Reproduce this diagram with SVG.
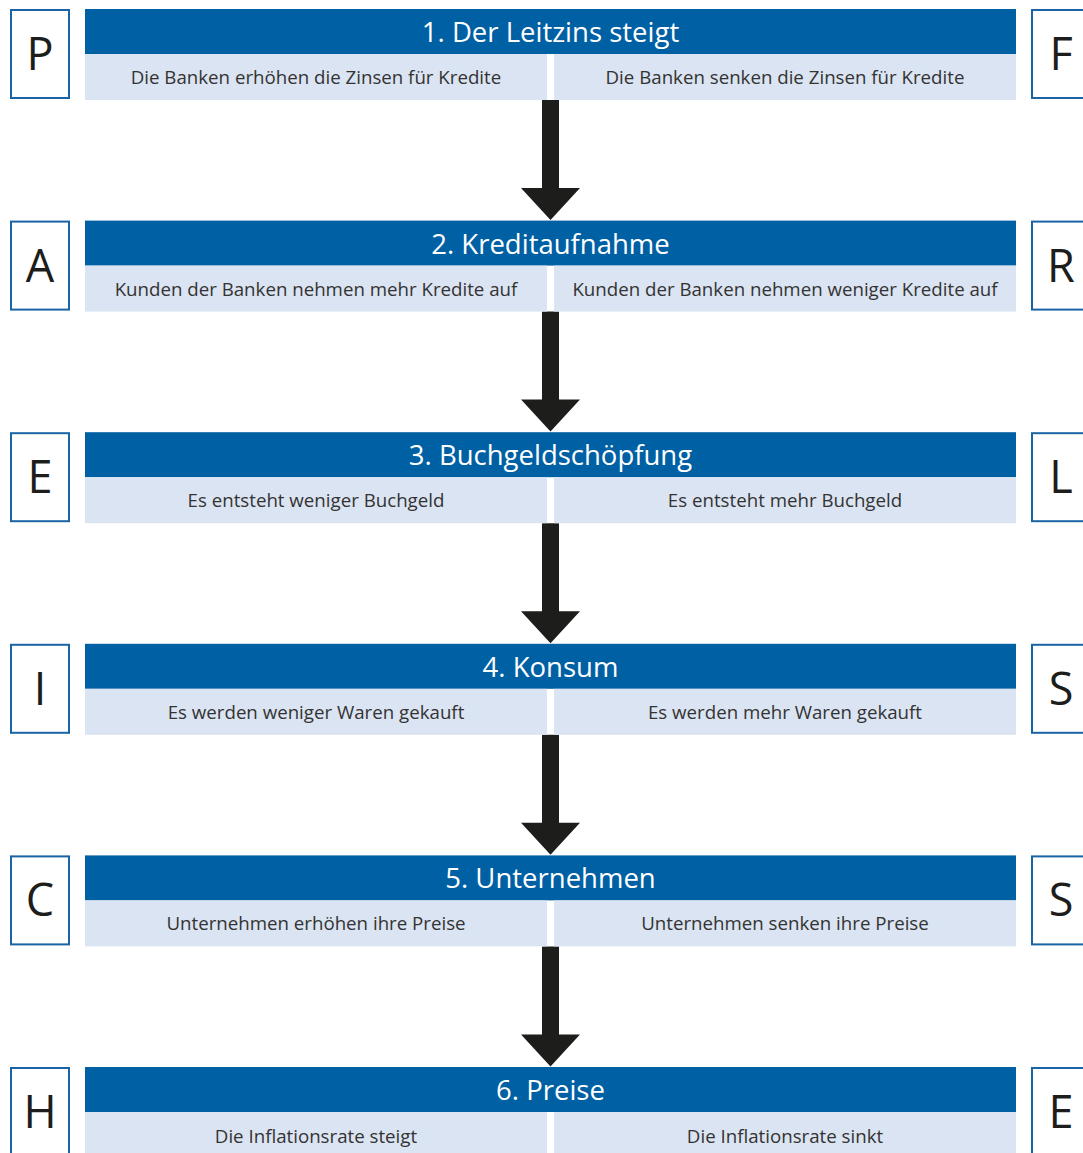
<svg xmlns="http://www.w3.org/2000/svg" width="1083" height="1153" viewBox="0 0 1083 1153">
<defs>
<style>
.hd{fill:#0060a4}
.sb{fill:#dbe4f2}
.lb{fill:#fff;stroke:#1a64a6;stroke-width:2}
.tt{font-family:"Open Sans","Noto Sans",sans-serif;font-size:27.5px;fill:#fff;text-anchor:middle}
.st{font-family:"Open Sans","Noto Sans",sans-serif;font-size:18.7px;fill:#333;text-anchor:middle}
.lt{font-family:"Open Sans","Noto Sans",sans-serif;font-size:45px;fill:#1d1d1b;text-anchor:middle}
.ar{fill:#1d1d1b}
</style>
</defs>
<rect width="1083" height="1153" fill="#fff"/>
<g id="connectors">
<path class="ar" d="M542,100 H559 V188 H580 L550.5,220 L521,188 H542 Z"/>
<path class="ar" d="M542,311.6 H559 V399.6 H580 L550.5,431.6 L521,399.6 H542 Z"/>
<path class="ar" d="M542,523.2 H559 V611.2 H580 L550.5,643.2 L521,611.2 H542 Z"/>
<path class="ar" d="M542,734.8 H559 V822.8 H580 L550.5,854.8 L521,822.8 H542 Z"/>
<path class="ar" d="M542,946.4 H559 V1034.4 H580 L550.5,1066.4 L521,1034.4 H542 Z"/>
</g>
<g id="row1" transform="translate(0,0)">
<rect class="hd" x="85" y="9" width="931" height="45"/>
<rect class="sb" x="85" y="54" width="462" height="46"/>
<rect class="sb" x="554" y="54" width="462" height="46"/>
<text class="tt" x="550.5" y="42">1. Der Leitzins steigt</text>
<text class="st" x="316" y="84">Die Banken erhöhen die Zinsen für Kredite</text>
<text class="st" x="785" y="84">Die Banken senken die Zinsen für Kredite</text>
</g>
<g id="row2" transform="translate(0,211.6)">
<rect class="hd" x="85" y="9" width="931" height="45"/>
<rect class="sb" x="85" y="54" width="462" height="46"/>
<rect class="sb" x="554" y="54" width="462" height="46"/>
<text class="tt" x="550.5" y="42">2. Kreditaufnahme</text>
<text class="st" x="316" y="84">Kunden der Banken nehmen mehr Kredite auf</text>
<text class="st" x="785" y="84">Kunden der Banken nehmen weniger Kredite auf</text>
</g>
<g id="row3" transform="translate(0,423.2)">
<rect class="hd" x="85" y="9" width="931" height="45"/>
<rect class="sb" x="85" y="54" width="462" height="46"/>
<rect class="sb" x="554" y="54" width="462" height="46"/>
<text class="tt" x="550.5" y="42">3. Buchgeldschöpfung</text>
<text class="st" x="316" y="84">Es entsteht weniger Buchgeld</text>
<text class="st" x="785" y="84">Es entsteht mehr Buchgeld</text>
</g>
<g id="row4" transform="translate(0,634.8)">
<rect class="hd" x="85" y="9" width="931" height="45"/>
<rect class="sb" x="85" y="54" width="462" height="46"/>
<rect class="sb" x="554" y="54" width="462" height="46"/>
<text class="tt" x="550.5" y="42">4. Konsum</text>
<text class="st" x="316" y="84">Es werden weniger Waren gekauft</text>
<text class="st" x="785" y="84">Es werden mehr Waren gekauft</text>
</g>
<g id="row5" transform="translate(0,846.4)">
<rect class="hd" x="85" y="9" width="931" height="45"/>
<rect class="sb" x="85" y="54" width="462" height="46"/>
<rect class="sb" x="554" y="54" width="462" height="46"/>
<text class="tt" x="550.5" y="42">5. Unternehmen</text>
<text class="st" x="316" y="84">Unternehmen erhöhen ihre Preise</text>
<text class="st" x="785" y="84">Unternehmen senken ihre Preise</text>
</g>
<g id="row6" transform="translate(0,1058)">
<rect class="hd" x="85" y="9" width="931" height="45"/>
<rect class="sb" x="85" y="54" width="462" height="46"/>
<rect class="sb" x="554" y="54" width="462" height="46"/>
<text class="tt" x="550.5" y="42">6. Preise</text>
<text class="st" x="316" y="85">Die Inflationsrate steigt</text>
<text class="st" x="785" y="85">Die Inflationsrate sinkt</text>
</g>
<g id="letters-left">
<g id="L-P"><rect class="lb" x="11" y="10" width="58" height="88"/><text class="lt" x="40" y="70">P</text></g>
<g id="L-A"><rect class="lb" x="11" y="221.6" width="58" height="88"/><text class="lt" x="40" y="281.6">A</text></g>
<g id="L-E"><rect class="lb" x="11" y="433.2" width="58" height="88"/><text class="lt" x="40" y="493.2">E</text></g>
<g id="L-I"><rect class="lb" x="11" y="644.8" width="58" height="88"/><text class="lt" x="40" y="704.8">I</text></g>
<g id="L-C"><rect class="lb" x="11" y="856.4" width="58" height="88"/><text class="lt" x="40" y="916.4">C</text></g>
<g id="L-H"><rect class="lb" x="11" y="1068" width="58" height="88"/><text class="lt" x="40" y="1128">H</text></g>
</g>
<g id="letters-right">
<g id="R-F"><rect class="lb" x="1032" y="10" width="58" height="88"/><text class="lt" x="1061" y="70">F</text></g>
<g id="R-R"><rect class="lb" x="1032" y="221.6" width="58" height="88"/><text class="lt" x="1061" y="281.6">R</text></g>
<g id="R-L"><rect class="lb" x="1032" y="433.2" width="58" height="88"/><text class="lt" x="1061" y="493.2">L</text></g>
<g id="R-S1"><rect class="lb" x="1032" y="644.8" width="58" height="88"/><text class="lt" x="1061" y="704.8">S</text></g>
<g id="R-S2"><rect class="lb" x="1032" y="856.4" width="58" height="88"/><text class="lt" x="1061" y="916.4">S</text></g>
<g id="R-E"><rect class="lb" x="1032" y="1068" width="58" height="88"/><text class="lt" x="1061" y="1128">E</text></g>
</g>
</svg>
